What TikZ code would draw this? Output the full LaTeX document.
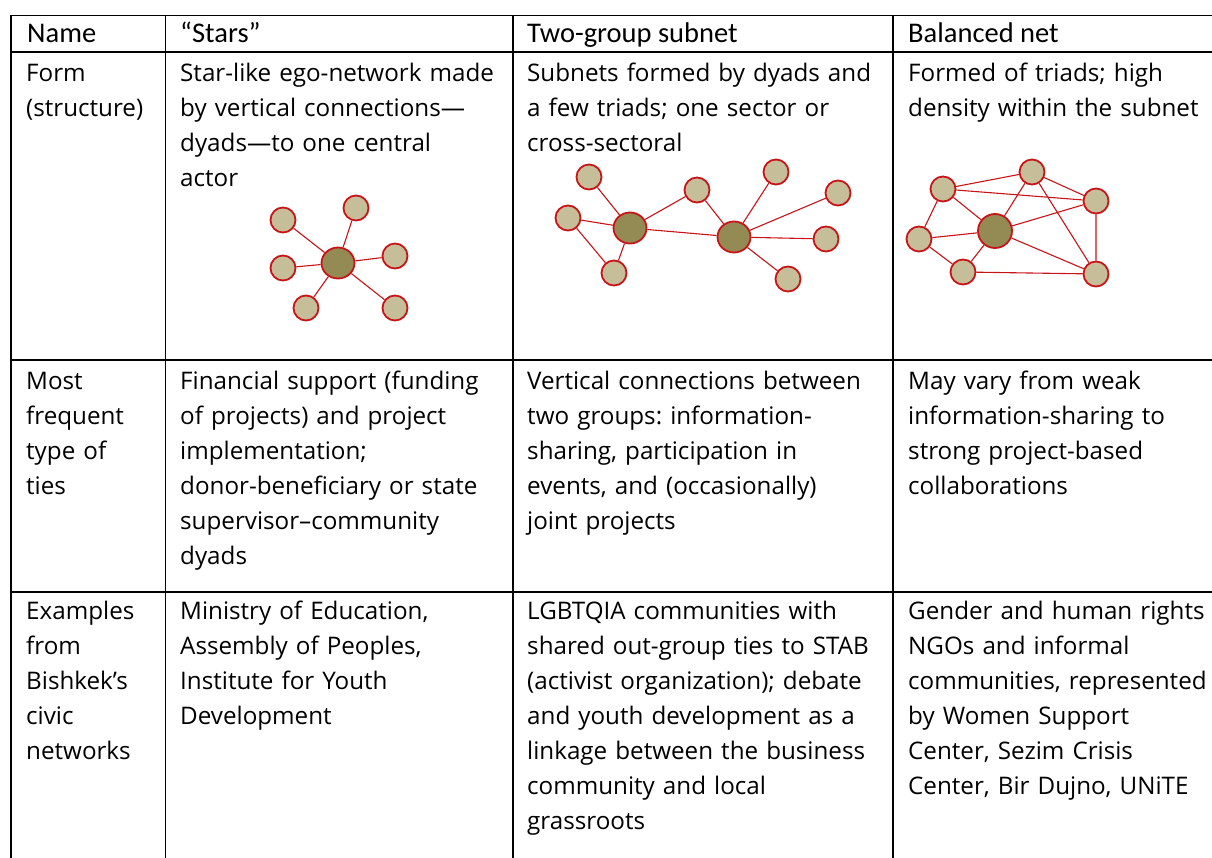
\documentclass[tikz,border=0pt]{standalone}
\usepackage{fontspec}
\setmainfont{Open Sans}
\newfontfamily\headfont{Carlito}
\usetikzlibrary{shapes.geometric}
\definecolor{leaffill}{RGB}{197,190,152}
\definecolor{hubfill}{RGB}{148,139,84}
\definecolor{tiered}{RGB}{200,20,24}
\frenchspacing

\begin{document}
\begin{tikzpicture}[x=1pt,y=-1pt,
  leaf/.style={draw=tiered,line width=1.8pt,shape=circle,fill=leaffill,inner sep=0pt,minimum size=25pt},
  hub/.style={draw=tiered,line width=1.8pt,shape=ellipse,fill=hubfill,inner sep=0pt,minimum width=33pt,minimum height=31pt},
  tie/.style={draw=tiered,line width=1.1pt},
  grid/.style={line width=1.8pt},
  cell/.style={anchor=base west,inner sep=0pt,text width=420pt,align=left,font=\fontsize{24.2}{35}\selectfont\frenchspacing},
  head/.style={anchor=base west,inner sep=0pt,font=\headfont\fontsize{28.5}{30}\selectfont}]
  \useasboundingbox (0,0) rectangle (1212,858);
  % table rules
  \draw[grid] (10,15.5) -- (1212,15.5) (10,52) -- (1212,52)
    (10,360) -- (1212,360) (10,592) -- (1212,592);
  \draw[grid] (11,15.5) -- (11,858) (165.5,15.5) -- (165.5,858)
    (513,15.5) -- (513,858) (893,15.5) -- (893,858);
  % header
  \node[head] (h1) at (27,43) {Name};
  \node[head] (h2) at (180,43) {“Stars”};
  \node[head] (h3) at (527,43) {Two-group subnet};
  \node[head] (h4) at (908,43) {Balanced net};
  % form row
  \node[cell] (f1) at (26,82) {Form\\(structure)};
  \node[cell] (f2) at (180,82) {Star-like ego-network made\\by vertical connections—\\dyads—to one central\\actor};
  \node[cell] (f3) at (527,82) {Subnets formed by dyads and\\a few triads; one sector or\\cross-sectoral};
  \node[cell] (f4) at (908,82) {Formed of triads; high\\density within the subnet};
  % ties row
  \node[cell] (t1) at (26,389) {Most\\frequent\\type of\\ties};
  \node[cell] (t2) at (180,389) {Financial support (funding\\of projects) and project\\implementation;\\donor-beneficiary or state\\supervisor–community\\dyads};
  \node[cell] (t3) at (527,389) {Vertical connections between\\two groups: information-\\sharing, participation in\\events, and (occasionally)\\joint projects};
  \node[cell] (t4) at (908,389) {May vary from weak\\information-sharing to\\strong project-based\\collaborations};
  % examples row
  \node[cell] (e1) at (26,619) {Examples\\from\\Bishkek’s\\civic\\networks};
  \node[cell] (e2) at (180,619) {Ministry of Education,\\Assembly of Peoples,\\Institute for Youth\\Development};
  \node[cell] (e3) at (527,619) {LGBTQIA communities with\\shared out-group ties to STAB\\(activist organization); debate\\and youth development as a\\linkage between the business\\community and local\\grassroots};
  \node[cell] (e4) at (908,619) {Gender and human rights\\NGOs and informal\\communities, represented\\by Women Support\\Center, Sezim Crisis\\Center, Bir Dujno, UNiTE};
  % stars
  \path (338,263) node[hub] (s0) {} (283,220) node[leaf] (s1) {} (356,208) node[leaf] (s2) {}
  (395,256) node[leaf] (s3) {} (283,268) node[leaf] (s4) {} (306,308) node[leaf] (s5) {}
  (395,308) node[leaf] (s6) {};
  \foreach \i in {1,...,6} \draw[tie] (s0) -- (s\i);
  % two-group subnet
  \path (630,228) node[hub] (a0) {} (734,237) node[hub] (b0) {}
  (589,177) node[leaf] (a1) {} (568,218) node[leaf] (a2) {} (614,273) node[leaf] (a3) {}
  (697,190) node[leaf] (m) {} (776,172) node[leaf] (b1) {} (838,193) node[leaf] (b2) {}
  (826,239) node[leaf] (b3) {} (788,279) node[leaf] (b4) {};
  \draw[tie] (a0) -- (a1) (a0) -- (a2) (a0) -- (a3) (a2) -- (a3) (a0) -- (m)
    (a0) -- (b0) (m) -- (b0);
  \foreach \i in {1,...,4} \draw[tie] (b0) -- (b\i);
  % balanced net
  \path (995,231) node[hub,minimum width=34pt,minimum height=34pt] (c0) {}
  (943,189) node[leaf] (c1) {} (1032,172) node[leaf] (c2) {} (1096,201) node[leaf] (c3) {}
  (919,239) node[leaf] (c4) {} (963,272) node[leaf] (c5) {} (1096,274) node[leaf] (c6) {};
  \draw[tie] (c1) -- (c2) (c1) -- (c3) (c1) -- (c4) (c2) -- (c3) (c2) -- (c6)
    (c3) -- (c6) (c4) -- (c5) (c5) -- (c6);
  \foreach \i in {1,...,6} \draw[tie] (c0) -- (c\i);
\end{tikzpicture}
\end{document}
